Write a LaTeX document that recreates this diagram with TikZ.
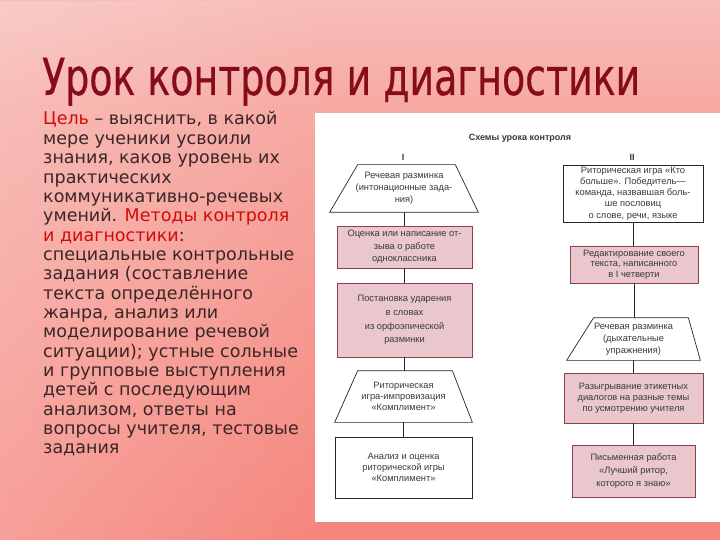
\documentclass[tikz,border=0pt]{standalone}
\usepackage{fontspec}
\usepackage{graphicx}
\setmainfont{DejaVu Sans}
\newfontfamily\diagfont{Liberation Sans}
\newfontfamily\titlefont[FakeBold=0.6]{DejaVu Sans}
\usetikzlibrary{shapes.geometric,fadings}
\definecolor{bgtop}{HTML}{F7B2AC}
\definecolor{bgbot}{HTML}{F5857C}
\definecolor{titlered}{HTML}{860C1C}
\definecolor{txtred}{HTML}{D10A0A}
\definecolor{txtdark}{HTML}{3A2626}
\definecolor{boxpink}{HTML}{EAC6CD}
\definecolor{boxedge}{HTML}{8C4050}
\definecolor{diagtext}{HTML}{3A3A3A}
\begin{document}
\begin{tikzpicture}[x=1pt,y=-1pt,
  ltext/.style={anchor=base west, inner sep=0pt, text=txtdark, font=\fontsize{17.5}{19}\selectfont},
  fs/.style={font=\diagfont\fontsize{9.3}{#1}\selectfont},
  boxbase/.style={text=diagtext, align=center, inner sep=0.5pt, line width=0.7pt},
  pinkbox/.style={boxbase, rectangle, draw=boxedge, fill=boxpink},
  whitebox/.style={boxbase, rectangle, draw=black!85, fill=white},
  trapbox/.style={boxbase, rectangle, draw=none},
  trapline/.style={draw=black!85, line width=0.7pt, line join=miter},
  link/.style={draw=black!85, line width=0.8pt}]
\useasboundingbox (0,0) rectangle (720,540);
% background
\shade[top color=bgtop, bottom color=bgbot] (0,0) rectangle (720,540);
\fill[white, fill opacity=0.22, path fading=east] (0,0) rectangle (330,540);
\fill[white, fill opacity=0.15, path fading=south] (0,0) rectangle (720,110);
% title
\node[anchor=base west, inner sep=0pt, text=titlered] (title) at (42,95)
  {\resizebox{598pt}{\height}{\titlefont\fontsize{51}{55}\selectfont Урок контроля и диагностики}};
% left text
\foreach \t [count=\i] in {
 {\textcolor{txtred}{Цель} – выяснить, в какой},
 {мере ученики усвоили},
 {знания, каков уровень их},
 {практических},
 {коммуникативно-речевых},
 {умений. \textcolor{txtred}{Методы контроля}},
 {\textcolor{txtred}{и диагностики}:},
 {специальные контрольные},
 {задания (составление},
 {текста определённого},
 {жанра, анализ или},
 {моделирование речевой},
 {ситуации); устные сольные},
 {и групповые выступления},
 {детей с последующим},
 {анализом, ответы на},
 {вопросы учителя, тестовые},
 {задания}}
{\node[ltext] (l\i) at (43,{125+19.35*(\i-1)}) {\t};}
% diagram panel
\fill[white] (315,113) rectangle (720,522);
\node[font=\diagfont\bfseries\fontsize{9}{10}\selectfont, text=diagtext] (hdr) at (520,138) {Схемы урока контроля};
\node[font=\diagfont\bfseries\fontsize{9}{10}\selectfont, text=diagtext] (h1) at (403,157) {I};
\node[font=\diagfont\bfseries\fontsize{9}{10}\selectfont, text=diagtext] (h2) at (632,157) {II};
% column I
\node[trapbox, fs=12, minimum width=148pt, minimum height=47pt] (t1) at (404,188.5)
  {Речевая разминка\\(интонационные зада-\\ния)};
\draw[trapline] ([xshift=28pt]t1.north west) -- ([xshift=-23pt]t1.north east) -- (t1.south east) -- (t1.south west) -- cycle;
\node[pinkbox, fs=12.5, minimum width=135pt, minimum height=42pt] (r2) at (404.5,247)
  {Оценка или написание от-\\зыва о работе\\одноклассника};
\node[pinkbox, fs=13.7, minimum width=135pt, minimum height=74pt] (r3) at (404.5,320)
  {Постановка ударения\\в словах\\из орфоэпической\\разминки};
\node[trapbox, fs=10.8, minimum width=137pt, minimum height=51pt] (t4) at (403.5,396.5)
  {Риторическая\\игра-импровизация\\«Комплимент»};
\draw[trapline] ([xshift=23pt]t4.north west) -- ([xshift=-20pt]t4.north east) -- (t4.south east) -- (t4.south west) -- cycle;
\node[whitebox, fs=10.8, minimum width=137pt, minimum height=61pt] (r5) at (403.5,467.5)
  {Анализ и оценка\\риторической игры\\«Комплимент»};
% column II
\node[whitebox, fs=11.2, minimum width=140pt, minimum height=57pt] (s1) at (633,193.5)
  {Риторическая игра «Кто\\больше». Победитель—\\команда, назвавшая боль-\\ше пословиц\\о слове, речи, языке};
\node[pinkbox, fs=10.5, minimum width=128pt, minimum height=37pt] (s2) at (634,264.5)
  {Редактирование своего\\текста, написанного\\в I четверти};
\node[trapbox, fs=12, minimum width=133pt, minimum height=42pt] (s3) at (633.5,339)
  {Речевая разминка\\(дыхательные\\упражнения)};
\draw[trapline] ([xshift=27pt]s3.north west) -- ([xshift=-12pt]s3.north east) -- (s3.south east) -- (s3.south west) -- cycle;
\node[pinkbox, fs=10.8, minimum width=139pt, minimum height=50pt] (s4) at (633.5,398)
  {Разыгрывание этикетных\\диалогов на разные темы\\по усмотрению учителя};
\node[pinkbox, fs=13, minimum width=123pt, minimum height=52pt] (s5) at (633.5,471)
  {Письменная работа\\«Лучший ритор,\\которого я знаю»};
% connectors
\draw[link] (t1.south) -- (t1.south |- r2.north);
\draw[link] (r2.south) -- (r2.south |- r3.north);
\draw[link] (r3.south) -- (r3.south |- t4.north);
\draw[link] (t4.south) -- (t4.south |- r5.north);
\draw[link] (s1.south) -- (s1.south |- s2.north);
\draw[link] (s2.south) -- (s2.south |- s3.north);
\draw[link] (s3.south) -- (s3.south |- s4.north);
\draw[link] (s4.south) -- (s4.south |- s5.north);
\end{tikzpicture}
\end{document}
